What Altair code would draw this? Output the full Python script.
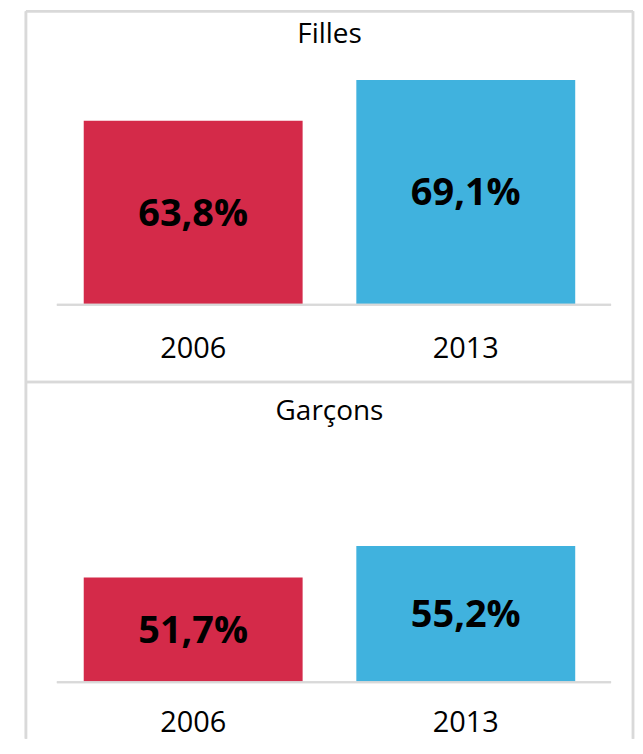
import altair as alt
import pandas as pd

years = ["2006", "2013"]
filles = [63.8, 69.1]
garcons = [51.7, 55.2]
panel_titles = ["Filles", "Garçons"]
BASE = 40

RED = "#D42A49"
BLUE = "#40B2DE"
GRID = "#D9D9D9"
FONT = "Open Sans"

W = 609


def make_df(values):
    return pd.DataFrame({
        "year": years,
        "value": values,
        "base": [BASE] * len(values),
        "mid": [(v + BASE) / 2 for v in values],
        "label": [f"{v:.1f}%".replace(".", ",") for v in values],
    })


def panel(title, values, domain, height, label_pad, title_y, top_border):
    df = make_df(values)
    xenc = alt.X(
        "year:N",
        sort=years,
        scale=alt.Scale(paddingInner=0.197, paddingOuter=0.212),
        axis=alt.Axis(title=None, domain=False, ticks=False, labelPadding=label_pad,
                      labelFontSize=29, labelFont=FONT, labelColor="black",
                      labelBaseline="middle", labelAngle=0),
    )
    yscale = alt.Scale(domain=domain, nice=False, zero=False)
    base = alt.Chart(df)
    bars = base.mark_bar().encode(
        x=xenc,
        y=alt.Y("value:Q", scale=yscale, axis=None),
        y2=alt.Y2("base:Q"),
        color=alt.Color("year:N", scale=alt.Scale(domain=years, range=[RED, BLUE]), legend=None),
    )
    texts = base.mark_text(font=FONT, fontSize=38, fontWeight="bold", color="black",
                           baseline="middle", dy=2).encode(
        x=alt.X("year:N", sort=years),
        y=alt.Y("mid:Q", axis=None),
        text="label:N",
    )
    baseline = base.mark_rule(color=GRID, strokeWidth=2).encode(
        y=alt.Y("base:Q", axis=None),
        x=alt.value(31),
        x2=alt.value(587),
    )
    title_df = pd.DataFrame({"t": [title]})
    title_mark = alt.Chart(title_df).mark_text(
        font=FONT, fontSize=28, color="black", baseline="middle", align="center"
    ).encode(text="t:N", x=alt.value(W / 2), y=alt.value(title_y))
    left = base.mark_rule(color=GRID, strokeWidth=2.5).encode(
        x=alt.value(0), y=alt.value(0), y2=alt.value(height))
    right = base.mark_rule(color=GRID, strokeWidth=2.5).encode(
        x=alt.value(W), y=alt.value(0), y2=alt.value(height))
    layers = [bars, texts, baseline, title_mark, left, right]
    if top_border:
        top = base.mark_rule(color=GRID, strokeWidth=2.5).encode(
            x=alt.value(0), x2=alt.value(W), y=alt.value(0))
        bottom = base.mark_rule(color=GRID, strokeWidth=2.5).encode(
            x=alt.value(0), x2=alt.value(W), y=alt.value(height))
        layers += [top, bottom]
    return alt.layer(*layers).properties(width=W, height=height)


top_panel = panel(panel_titles[0], filles, [30, 78], 372, -34, 24, True)
bottom_panel = panel(panel_titles[1], garcons, [33.7, 73.5], 358, -16, 30, False)

chart = alt.vconcat(top_panel, bottom_panel, spacing=0, bounds="flush").properties(
    padding={"left": 16, "top": 0, "right": 0, "bottom": 0}
).configure_view(stroke="transparent")

chart.save("out.html", embed_options={"renderer": "svg", "actions": False})
